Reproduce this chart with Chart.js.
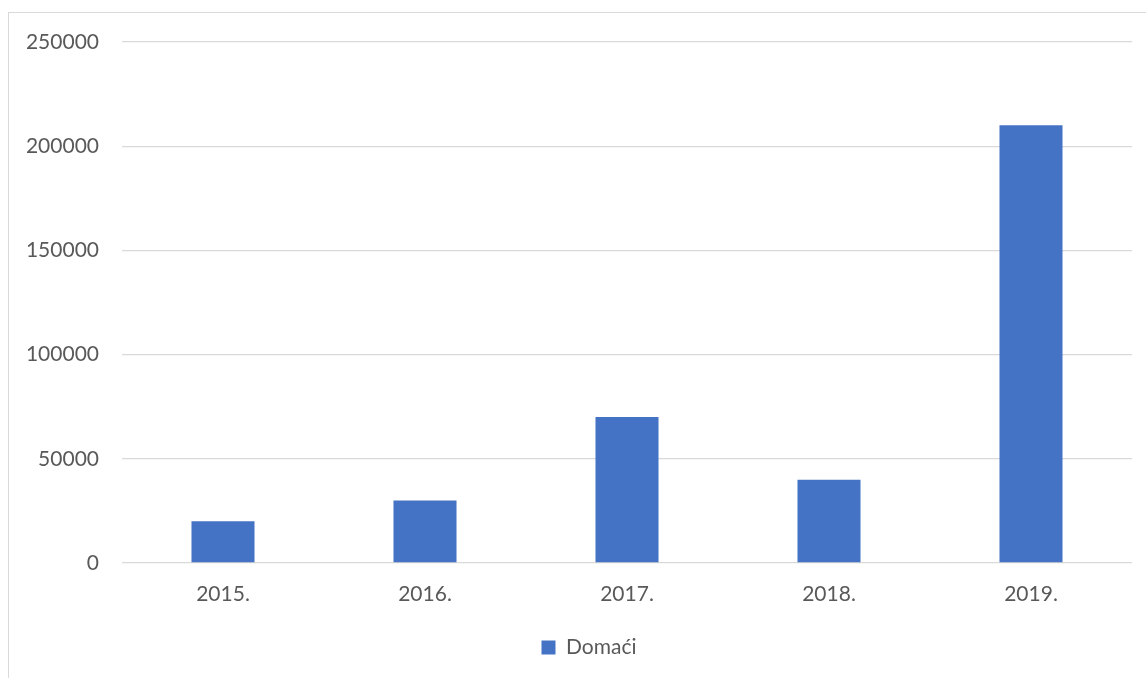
<!DOCTYPE html>
<html>
<head>
<meta charset="utf-8">
<script src="https://cdn.jsdelivr.net/npm/chart.js@4/dist/chart.umd.min.js"></script>
<style>
  html, body { margin: 0; padding: 0; background: #ffffff; overflow: hidden; }
  #wrap { position: relative; width: 1146px; height: 678px; }
  #frame { position: absolute; left: 8px; top: 12px; width: 1200px; height: 720px;
           border: 1.5px solid #d9d9d9; box-sizing: border-box; }
  canvas { position: absolute; left: 0; top: 0; }
</style>
</head>
<body>
<div id="wrap">
  <div id="frame"></div>
  <canvas id="c" width="1146" height="678"></canvas>
</div>
<script>
const categories = ["2015.", "2016.", "2017.", "2018.", "2019."];
const seriesName = "Domaći";
const values = [20000, 30000, 70000, 40000, 210000];
const yMin = 0;
const yMax = 250000;
const yStep = 50000;

const FONT = "Lato, 'Open Sans', 'Liberation Sans', sans-serif";
const TEXT = "#595959";
const FS = 21;

const legendShift = {
  id: "legendShift",
  afterLayout(chart) {
    if (chart.legend) { chart.legend.left += 23; chart.legend.right += 23; }
  }
};

new Chart(document.getElementById("c"), {
  type: "bar",
  data: {
    labels: categories,
    datasets: [{
      label: seriesName,
      data: values,
      backgroundColor: "#4472C4",
      borderWidth: 0,
      categoryPercentage: 1.0,
      barPercentage: 0.312
    }]
  },
  plugins: [legendShift],
  options: {
    responsive: false,
    animation: false,
    devicePixelRatio: 1,
    layout: { padding: { left: 0, right: 14, top: 42, bottom: 10 } },
    scales: {
      x: {
        grid: { display: false, drawTicks: false },
        border: { display: false },
        ticks: { color: TEXT, font: { family: FONT, size: FS }, padding: 19 },
        afterFit: (s) => { s.height = 64; }
      },
      y: {
        min: yMin, max: yMax,
        ticks: {
          stepSize: yStep, color: TEXT, font: { family: FONT, size: FS }, padding: 23,
          callback: (v) => String(v)
        },
        grid: { color: "#d9d9d9", lineWidth: 1.3, drawTicks: false },
        border: { display: false },
        afterFit: (s) => { s.width = 122; }
      }
    },
    plugins: {
      legend: {
        position: "bottom",
        labels: {
          color: TEXT,
          font: { family: FONT, size: FS },
          boxWidth: 14, boxHeight: 14,
          padding: 10
        }
      },
      tooltip: { enabled: false }
    }
  }
});
</script>
</body>
</html>
